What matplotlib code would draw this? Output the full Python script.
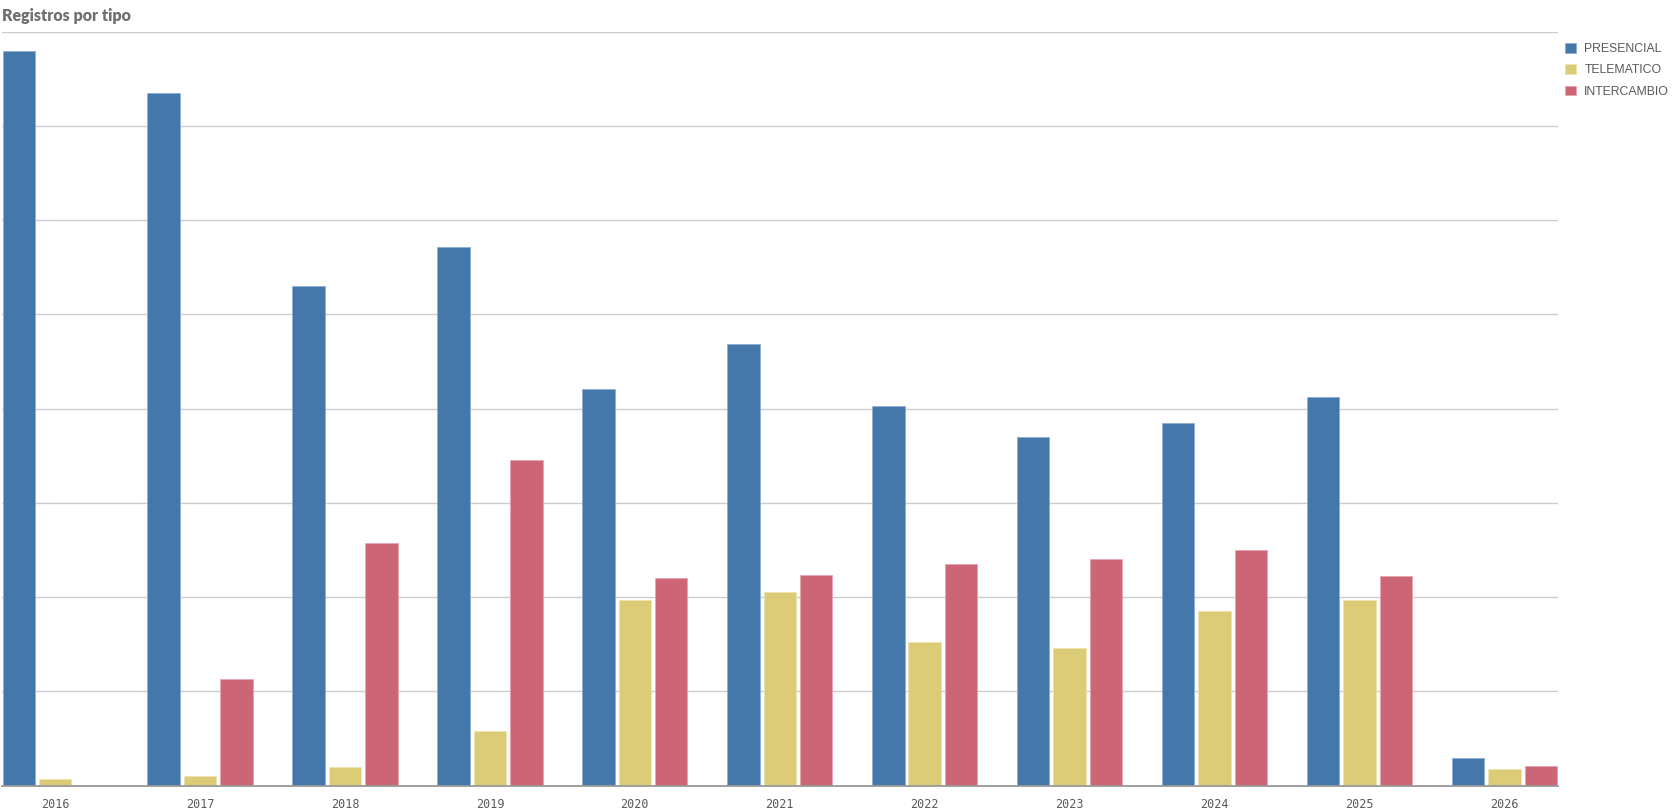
import numpy as np
import matplotlib.pyplot as plt

# data (1 gridline = 1000)
anios = ['2016', '2017', '2018', '2019', '2020', '2021', '2022', '2023', '2024', '2025', '2026']
presencial = [7790, 7345, 5300, 5717, 4205, 4690, 4030, 3700, 3850, 4126, 295]
telematico = [69, 107, 200, 584, 1970, 2060, 1527, 1458, 1857, 1970, 178]
intercambio = [0, 1130, 2570, 3455, 2205, 2240, 2356, 2400, 2500, 2230, 210]
series = ['PRESENCIAL', 'TELEMATICO', 'INTERCAMBIO']
colores = ['#4477AA', '#DDCC77', '#CC6677']
bordes = ['#8FADD0', '#EEE3B0', '#E6A6B0']

fig = plt.figure(figsize=(16.8, 8.1), dpi=100)
ax = fig.add_axes([0.0009, 0.0299, 0.9265, 0.9312])

x = np.arange(len(anios))
ancho = 0.224 # ancho de cada barra
paso = 0.251 # distancia entre barras del grupo
for i, valores in enumerate([presencial, telematico, intercambio]):
    ax.bar(x + (i - 1) * paso, valores, width=ancho, color=colores[i],
           edgecolor=bordes[i], linewidth=0.6, label=series[i], zorder=3)

ax.set_xlim(-0.37, len(anios) - 1 + 0.37)
ax.set_ylim(0, 8000)
ax.set_yticks(np.arange(0, 8001, 1000))
ax.yaxis.grid(True, color='#CCCCCC', linewidth=1.0, zorder=0)
ax.tick_params(axis='y', left=False, labelleft=False)
ax.set_xticks(x)
ax.set_xticklabels(anios, family='DejaVu Sans Mono', fontsize=8.5, color='#595959')
ax.tick_params(axis='x', length=0, pad=9)
for lado in ['top', 'right', 'left']:
    ax.spines[lado].set_visible(False)
ax.spines['bottom'].set_color('#999999')
ax.spines['bottom'].set_linewidth(1.3)
ax.spines['bottom'].set_zorder(4)

# titulo arriba a la izquierda
fig.text(0.001, 0.99, 'Registros por tipo', family='Lato', fontweight='heavy',
         fontsize=11.5, color='#707070', ha='left', va='top')

# leyenda a la derecha
leg = ax.legend(loc='upper left', bbox_to_anchor=(0.9318, 0.9468), bbox_transform=fig.transFigure,
                frameon=False, borderpad=0, borderaxespad=0, handlelength=0.85, handleheight=0.85,
                handletextpad=0.7, labelspacing=0.75, prop={'family': 'Liberation Sans', 'size': 8.8})
for t in leg.get_texts():
    t.set_color('#595959')

fig.savefig('out.png', dpi=100)
